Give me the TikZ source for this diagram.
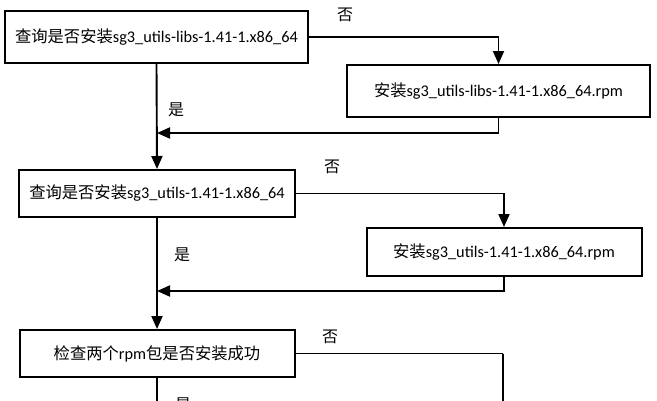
\documentclass[tikz,border=0pt]{standalone}
\usepackage{fontspec}
\setmainfont{Carlito}
\newfontfamily\cjk{Noto Sans CJK SC}
\usetikzlibrary{arrows.meta}
\begin{document}
\begin{tikzpicture}[x=1pt,y=-1pt,
  box/.style={draw,line width=2pt,rectangle,inner sep=0pt,font=\fontsize{16.3}{19}\selectfont},
  conn/.style={line width=1.9pt},
  arr/.style={conn,-{Triangle[width=11pt,length=13pt]}},
  lbl/.style={font=\cjk\fontsize{16}{18}\selectfont,inner sep=0pt}]
\useasboundingbox (0,0) rectangle (657,400);
\clip (0,0) rectangle (657,400);
\fill[white] (0,0) rectangle (657,400);
% boxes
\node[box,minimum width=303pt,minimum height=52pt] (q1) at (156.5,37) {{\cjk 查询是否安装}sg3\_utils-libs-1.41-1.x86\_64};
\node[box,minimum width=303pt,minimum height=52pt] (i1) at (498.5,91) {{\cjk 安装}sg3\_utils-libs-1.41-1.x86\_64.rpm};
\node[box,minimum width=276pt,minimum height=47pt] (q2) at (157,193.5) {{\cjk 查询是否安装}sg3\_utils-1.41-1.x86\_64};
\node[box,minimum width=275pt,minimum height=48pt] (i2) at (504,252) {{\cjk 安装}sg3\_utils-1.41-1.x86\_64.rpm};
\node[box,minimum width=275pt,minimum height=47pt] (q3) at (157,353.5) {{\cjk 检查两个}rpm{\cjk 包是否安装成功}};
% junctions
\coordinate (j1) at (157,133);
\coordinate (j2) at (157,291);
\coordinate (b1) at (157,420);
\coordinate (b2) at (503,420);
% connectors
\draw[arr] (q1.south) -- (q2.north);
\draw[arr] (q1.east) -| (i1.north);
\draw[arr] (i1.south) |- (j1);
\draw[arr] (q2.south) -- (q3.north);
\draw[arr] (q2.east) -| (i2.north);
\draw[arr] (i2.south) |- (j2);
\draw[conn] (q3.south) -- (b1);
\draw[conn] (q3.east -| b2) -- (b2);
\draw[conn] (q3.east) -- (q3.east -| b2);
% labels
\node[lbl] (n1) at (345,15) {否};
\node[lbl] (y1) at (176,110) {是};
\node[lbl] (n2) at (332,167) {否};
\node[lbl] (y2) at (182,255) {是};
\node[lbl] (n3) at (330,337) {否};
\node[lbl] (y3) at (183,405) {是};
\end{tikzpicture}
\end{document}
